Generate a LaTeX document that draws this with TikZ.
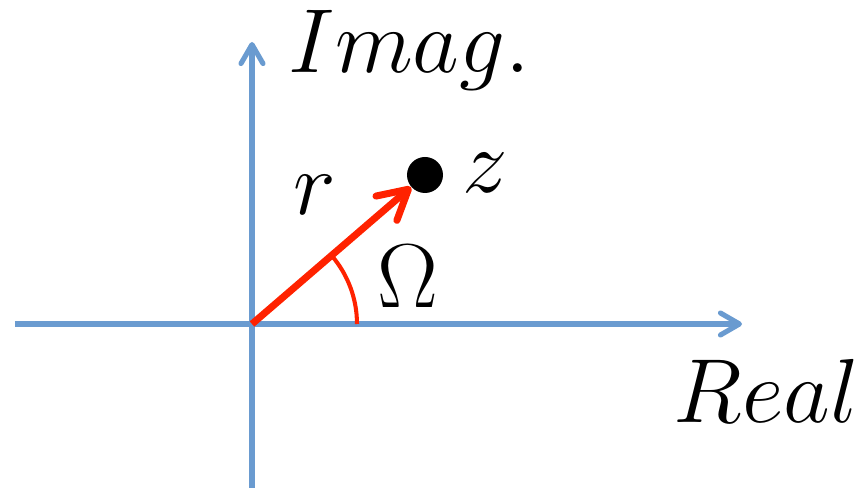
\documentclass[tikz,border=0pt]{standalone}
\usepackage{amsmath}
\usepackage{tikz}
\usetikzlibrary{arrows.meta}
\definecolor{achse}{HTML}{6A9BD0}
\definecolor{zeiger}{HTML}{FF2200}
\tikzset{
  ax/.style={-{Straight Barb[length=3.8mm,width=4.4mm,line cap=round,line join=round]},achse,line width=2.9pt},
  vec/.style={-{Straight Barb[length=5.8mm,width=6.4mm,line cap=round,line join=round]},zeiger,line width=4pt},
  winkel/.style={zeiger,line width=2.3pt},
  gross/.style={font=\Huge,scale=2.08,inner sep=0pt},
  punkt/.style={circle,fill=black,inner sep=0pt,minimum size=7.2mm},
}

\begin{document}
\begin{tikzpicture}
  \useasboundingbox (-5.04,-3.28) rectangle (12.3,6.48);
  \coordinate (O) at (0,0);
  \coordinate (xl) at (-4.74,0);
  \coordinate (xr) at (9.8,0);
  \coordinate (yu) at (0,-3.3);
  \coordinate (yo) at (0,5.64);
  \draw[ax] (xl) -- (xr);
  \draw[ax] (yu) -- (yo);
  \node[punkt] (pz) at (3.46,2.98) {};
  \draw[vec] (O) -- (pz);
  \draw[winkel] (2.1,0) arc (0:40.5:2.1);
  \node[gross,anchor=base west] (imag) at (0.72,5.02) {$Imag.$};
  \node[gross,anchor=base west] (real) at (8.42,-1.98) {$Real$};
  \node[gross,anchor=base] (lz) at (4.66,2.62) {$z$};
  \node[gross,anchor=base] (lr) at (1.26,2.18) {$r$};
  \node[gross,anchor=base] (lom) at (3.12,0.32) {$\Omega$};
\end{tikzpicture}
\end{document}
